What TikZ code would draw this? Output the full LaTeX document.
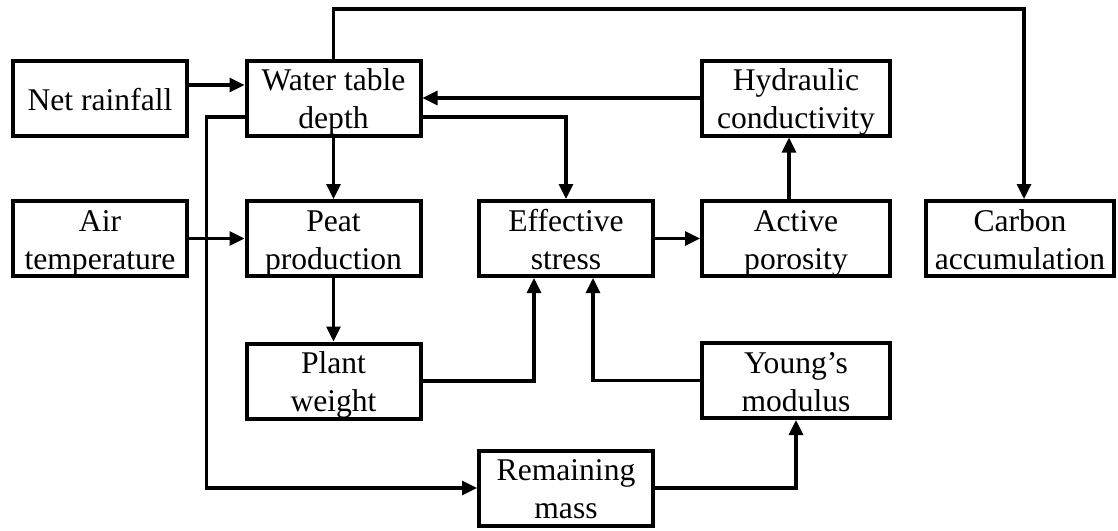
\documentclass[tikz,border=0pt]{standalone}
\usepackage{fontspec}
\setmainfont{Liberation Serif}
\usetikzlibrary{arrows.meta}
\usetikzlibrary{positioning}

\begin{document}
\begin{tikzpicture}[->,>={Triangle[length=15pt,width=14pt]},node distance=233.5pt,line width=3.2pt,
  box/.style={draw,rectangle,line width=4pt,inner sep=0pt,minimum width=174pt,minimum height=75pt,
    align=center,font=\fontsize{31.6pt}{38pt}\selectfont,text height=61pt,text depth=0pt},
  wide/.style={box,minimum width=188pt}]
  \useasboundingbox (0,0) rectangle (1118pt,-530pt);

  \node[box,text height=24pt] (NR) at (100pt,-98pt) {Net rainfall};
  \node[box]  (WT) [right of=NR]                   {Water table\\depth};
  \node[wide] (HC) [node distance=462.5pt,right of=WT] {Hydraulic\\conductivity};
  \node[box]  (AT) [node distance=140.5pt,below of=NR] {Air\\temperature};
  \node[box]  (PP) [node distance=140.5pt,below of=WT] {Peat\\production};
  \node[box]  (ES) [node distance=232.5pt,right of=PP] {Effective\\stress};
  \node[wide] (AP) [node distance=230pt,right of=ES]   {Active\\porosity};
  \node[wide] (CA) [node distance=224pt,right of=AP]   {Carbon\\accumulation};
  \node[box]  (PW) [node distance=142.5pt,below of=PP] {Plant\\weight};
  \node[wide] (YM) [node distance=142pt,below of=AP]   {Young’s\\modulus};
  \node[box]  (RM) [node distance=249.5pt,below of=ES] {Remaining\\mass};

  \path (AT) edge (PP)
        (WT) edge (PP)
        (PP) edge (PW)
        (HC) edge (WT)
        (ES) edge (AP)
        ([xshift=-7pt]AP.north) edge ([xshift=-7pt]HC.south);

  \draw ([yshift=13pt]NR.east) -- ([yshift=13pt]WT.west);
  \draw ([yshift=-19pt]WT.east) -| (ES.north);
  \draw (WT.north) -- ++(0,49.5pt) -| ([xshift=4pt]CA.north);
  \draw ([yshift=-19pt]WT.west) -- ++(-38pt,0) |- (RM.west);
  \draw (PW.east) -| ([xshift=-32pt]ES.south);
  \draw (YM.west) -| ([xshift=27pt]ES.south);
  \draw (RM.east) -| (YM.south);
\end{tikzpicture}
\end{document}
